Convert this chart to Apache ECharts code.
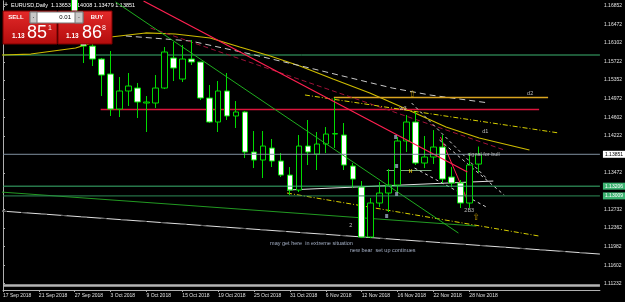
<!DOCTYPE html>
<html>
<head>
<meta charset="utf-8">
<script src="https://cdn.jsdelivr.net/npm/echarts@6/dist/echarts.min.js"></script>
<style>
html,body{margin:0;padding:0;background:#000;}
#chart{width:625px;height:302px;}
</style>
</head>
<body>
<div id="chart"></div>
<script>
// EURUSD daily, bars from 27 Sep 2018 (index 8) to 29 Nov 2018 (index 53)
var symbol = 'EURUSD', period = 'Daily';
var bid = '1.13851', ask = '1.13868';
var tickLabels = ['17 Sep 2018','21 Sep 2018','27 Sep 2018','3 Oct 2018','9 Oct 2018','15 Oct 2018','19 Oct 2018','25 Oct 2018','31 Oct 2018','6 Nov 2018','12 Nov 2018','16 Nov 2018','22 Nov 2018','28 Nov 2018'];
var barsPerTick = 4;
var priceTicks = [1.16852,1.16472,1.16102,1.15722,1.15352,1.14972,1.14602,1.14222,1.13472,1.12732,1.12362,1.11982,1.11602,1.11232];
var firstBar = 8;
var xMax = 66.56;

var opens  = [1.1740,1.1645,1.1604,1.15779,1.15476,1.14767,1.15132,1.15192,1.14889,1.14889,1.15192,1.15800,1.15374,1.15779,1.15719,1.14990,1.14504,1.15132,1.14626,1.14707,1.13897,1.13735,1.13978,1.13715,1.13431,1.13128,1.14018,1.13856,1.14059,1.14261,1.14241,1.13614,1.13189,1.12177,1.12865,1.13067,1.13229,1.14120,1.14504,1.13674,1.13796,1.13998,1.13391,1.13270,1.12865,1.13653];
var closes = [1.1645,1.16042,1.15779,1.15455,1.14767,1.15132,1.15233,1.14909,1.14909,1.15192,1.15921,1.15597,1.15779,1.15719,1.14990,1.14504,1.15132,1.14626,1.14707,1.13897,1.13735,1.14018,1.13715,1.13431,1.13128,1.14018,1.13897,1.14059,1.14261,1.14271,1.13634,1.13350,1.12177,1.12865,1.13067,1.13229,1.14120,1.14504,1.13674,1.13796,1.13998,1.13350,1.13270,1.12865,1.13634,1.13851];
var lows   = [1.1641,1.15698,1.15638,1.15030,1.14626,1.14605,1.14828,1.14585,1.14302,1.14788,1.15172,1.15334,1.15314,1.15658,1.14949,1.14484,1.14302,1.14545,1.14383,1.13776,1.13573,1.13371,1.13593,1.13391,1.13027,1.13087,1.13634,1.13533,1.13877,1.13978,1.13533,1.13168,1.12156,1.12156,1.12784,1.12683,1.13067,1.13897,1.13634,1.13573,1.13654,1.13270,1.13189,1.12764,1.12764,1.13479];
var highs  = [1.1750,1.1655,1.1625,1.15800,1.15941,1.15415,1.15496,1.15294,1.15030,1.15455,1.16022,1.16123,1.16063,1.16164,1.15719,1.15253,1.15334,1.15496,1.14929,1.14727,1.14322,1.14322,1.14160,1.13877,1.13593,1.14241,1.14545,1.14302,1.14403,1.14990,1.14484,1.13674,1.13310,1.12966,1.13290,1.13553,1.14201,1.14646,1.14707,1.14221,1.14342,1.14241,1.13593,1.13330,1.13877,1.14008];

// moving average style curves  [bar index, price]
var maYellow = [[-0.2,1.15860],[3.1,1.15880],[8.1,1.16002],[12,1.16225],[15.9,1.16306],[19.2,1.16285],[23.1,1.16204],[26.4,1.16022],[29.8,1.15840],[33.1,1.15638],[36.8,1.15375],[40.9,1.15091],[44.2,1.14828],[49.4,1.14403],[53.1,1.14180],[58.7,1.13938]];
var maGrey = [[13.7,1.16245],[20.9,1.16144],[27.6,1.15880],[34.2,1.15597],[43.4,1.15192],[47.6,1.15051],[54.2,1.14889]];

// trend lines [bar index, price]
var greenFall  = [[12.56,1.16933],[50.78,1.12258]];
var redFall    = [[15.67,1.16953],[51.78,1.13492]];
var redDash    = [[16.44,1.16407],[55.89,1.13938]];
var greenLow   = [[-0.22,1.13087],[52.78,1.12399]];
var whiteLow   = [[-0.22,1.12703],[66.56,1.11832]];
var whiteUp    = [[31.67,1.13128],[54.67,1.13310]];
var yellowUp   = [[33.67,1.15051],[62,1.14282]];
var yellowLow  = [[31.67,1.13067],[59.78,1.12197]];
var d2Line     = [[36.89,1.1500],[60.78,1.1500]];
var crimsonH   = [[10.89,1.1476],[59.78,1.1476]];
var greenShort = [[42.78,1.13523],[47.78,1.13523]];
var redThin    = [[48.78,1.14201],[51.78,1.12925]];
var fanA = [[45.56,1.14889],[53.89,1.13371]];
var fanB = [[45.89,1.13573],[53.89,1.12784]];
var fanC = [[48.67,1.14140],[55.89,1.13027]];

// full width horizontal levels
var levelTop = 1.15860, levelBid = 1.13851, levelG1 = 1.13206, levelG2 = 1.13009, levelLow = 1.11195;

var notes = [
  {name:'may get here  in extreme situation', value:[29.78,1.12055], color:'#c8d6f0'},
  {name:'new bear  set up continues', value:[38.67,1.11913], color:'#c8d6f0'},
  {name:'2', value:[38.6,1.12419], color:'#e8e8e8'},
  {name:'signal for bull', value:[51.78,1.13857], color:'#d0d0d0'},
  {name:'d1', value:[53.44,1.14322], color:'#e0e0e0'},
  {name:'d2', value:[58.44,1.15091], color:'#e0e0e0'},
  {name:'w3', value:[44.22,1.14788], color:'#e0e0e0'},
  {name:'2B3', value:[51.44,1.12723], color:'#e0e0e0'}
];
var arrows = [[45.67,1.15051],[52.78,1.12561]];
var marks = [[43.78,1.14201],[43.89,1.13614],[43.89,1.13047],[42.78,1.12602]];
var hMark = [[45.44,1.13492]];

var candles = opens.map(function (o, i) {
  return [firstBar + i, o, closes[i], lows[i], highs[i]];
});

var FONT = 'Liberation Sans';

function seg(data, color, width, type, z) {
  return {type:'line', data:data, symbol:'none', silent:true, z:z || 3, animation:false,
    lineStyle:{color:color, width:width, type:type || 'solid'}};
}
function level(v, color, width, lab) {
  var s = seg([[0, v], [xMax, v]], color, width, 'solid', lab ? 6 : 1);
  if (lab) {
    s.endLabel = {show:true, distance:3, formatter:v.toFixed(5), fontSize:5,
      fontFamily:FONT, color:lab.color, backgroundColor:lab.bg, padding:[1,2,1,2]};
  }
  return s;
}

var chart = echarts.init(document.getElementById('chart'));
var last = candles[candles.length - 1];
var title = symbol + ',' + period + '  ' + [last[1], last[4], last[3], last[2]].map(function (v) { return v.toFixed(5); }).join(' ');

var redGrad = new echarts.graphic.LinearGradient(0, 0, 0, 1, [{offset:0, color:'#e42a2a'}, {offset:1, color:'#b30c0c'}]);
var xTicks = tickLabels.map(function (t, i) { return i * barsPerTick; });

var option = {
  backgroundColor:'#000',
  animation:false,
  grid:{left:2, right:24, top:1, bottom:12},
  xAxis:{
    type:'value', min:0, max:xMax,
    axisLine:{show:true, onZero:false, lineStyle:{color:'#b0b0b0'}},
    axisTick:{show:true, length:2, customValues:xTicks, lineStyle:{color:'#b0b0b0'}},
    axisLabel:{customValues:xTicks,
      formatter:function (v) { return tickLabels[Math.round(v / barsPerTick)] || ''; },
      align:'left', margin:3, fontSize:5, color:'#e0e0e0', fontFamily:FONT},
    splitLine:{show:false}
  },
  yAxis:[{
    type:'value', position:'right', min:1.11105, max:1.16953,
    axisLine:{show:true, lineStyle:{color:'#b0b0b0'}},
    axisTick:{show:true, length:2, customValues:priceTicks, lineStyle:{color:'#b0b0b0'}},
    axisLabel:{customValues:priceTicks, formatter:function (v) { return v.toFixed(5); },
      align:'left', margin:4, fontSize:5, color:'#e0e0e0', fontFamily:FONT},
    splitLine:{show:false}
  }, {
    type:'value', position:'left', min:1.11105, max:1.16953,
    axisLine:{show:true, lineStyle:{color:'#b0b0b0'}},
    axisTick:{show:false}, axisLabel:{show:false}, splitLine:{show:false}
  }],
  series:[
    level(levelTop, '#3cb371', 1),
    level(levelLow, '#b4b4b4', 2.5),
    seg(maYellow, '#cdbb00', 1.2, 'solid', 2),
    seg(maGrey, '#c8c8c8', 1, [6,4], 2),
    {
      type:'candlestick', data:candles, encode:{x:0, y:[1,2,3,4]}, barWidth:6, z:4,
      itemStyle:{color:'#000', color0:'#fff', borderColor:'#00dc00', borderColor0:'#00dc00', borderWidth:1}
    },
    seg(crimsonH, '#dc143c', 1.5),
    seg(d2Line, '#daa520', 1.5),
    seg(greenFall, '#1fae1f', 1, 'solid', 5),
    seg(redFall, '#ff2050', 1.2, 'solid', 5),
    seg(redDash, '#a01038', 1, [5,3]),
    seg(greenLow, '#229a22', 1),
    seg(whiteLow, '#e0e0e0', 1),
    seg(whiteLow, '#555', 1, [6,14]),
    seg(whiteUp, '#e0e0e0', 1),
    seg(yellowUp, '#d8d000', 1, [5,2,1,2]),
    seg(yellowLow, '#d8d000', 1, [5,2,1,2]),
    seg(greenShort, '#80a880', 1),
    seg(redThin, '#ff2050', 1),
    seg(fanA, '#d0d0d0', 1, [3,3]),
    seg(fanB, '#d0d0d0', 1, [3,3]),
    seg(fanC, '#d0d0d0', 1, [3,3]),
    level(levelG1, '#3cb371', 1, {bg:'#3cb371', color:'#fff'}),
    level(levelG2, '#2e8b57', 1, {bg:'#3cb371', color:'#fff'}),
    level(levelBid, '#8090a0', 1, {bg:'#fff', color:'#000'}),
    {
      type:'scatter', data:notes.map(function (n) { return {name:n.name, value:n.value, label:{color:n.color}}; }),
      symbolSize:0, silent:true, z:6,
      label:{show:true, position:'right', distance:0, formatter:'{b}', fontSize:5.5, fontFamily:FONT}
    },
    {
      type:'scatter', data:arrows, symbolSize:0, silent:true, z:6,
      label:{show:true, position:'inside', formatter:'\u21e7', fontSize:9, color:'#e0b000', fontFamily:'DejaVu Sans'}
    },
    {
      type:'scatter', data:hMark, symbolSize:0, silent:true, z:6,
      label:{show:true, position:'inside', formatter:'H', fontSize:5, fontWeight:'bold', color:'#ffd700', fontFamily:FONT}
    },
    {
      type:'scatter', data:marks, symbol:'rect', symbolSize:[3,4], silent:true, z:6,
      itemStyle:{color:'#9aa8c0'}
    }
  ],
  graphic:{elements:[
    {type:'text', x:4, y:5, z:1, style:{text:'+', fill:'#fff', font:'7px ' + FONT, textVerticalAlign:'middle'}},
    {type:'text', x:11, y:5, z:1, style:{text:title, fill:'#fff', font:'5.5px ' + FONT, textVerticalAlign:'middle'}},
    {type:'rect', z:100, shape:{x:3, y:11, width:54, height:33}, style:{fill:redGrad, stroke:'#7a0000', lineWidth:1}},
    {type:'rect', z:100, shape:{x:58, y:11, width:54, height:33}, style:{fill:redGrad, stroke:'#7a0000', lineWidth:1}},
    {type:'rect', z:101, shape:{x:30, y:12, width:53, height:11}, style:{fill:'#fff', stroke:'#777', lineWidth:1}},
    {type:'rect', z:102, shape:{x:30, y:12, width:7, height:11}, style:{fill:'#c8c8c8', stroke:'#777', lineWidth:1}},
    {type:'rect', z:102, shape:{x:75, y:12, width:8, height:11}, style:{fill:'#c8c8c8', stroke:'#777', lineWidth:1}},
    {type:'text', z:103, x:33.5, y:17.5, style:{text:'\u2022', fill:'#555', font:'4px ' + FONT, textAlign:'center', textVerticalAlign:'middle'}},
    {type:'text', z:103, x:79, y:17.5, style:{text:'\u2022', fill:'#555', font:'4px ' + FONT, textAlign:'center', textVerticalAlign:'middle'}},
    {type:'text', z:103, x:71, y:17.5, style:{text:'0.01', fill:'#000', font:'6px ' + FONT, textAlign:'right', textVerticalAlign:'middle'}},
    {type:'text', z:103, x:16, y:17.5, style:{text:'SELL', fill:'#fff', font:'bold 6px ' + FONT, textAlign:'center', textVerticalAlign:'middle'}},
    {type:'text', z:103, x:97, y:17.5, style:{text:'BUY', fill:'#fff', font:'bold 6px ' + FONT, textAlign:'center', textVerticalAlign:'middle'}},
    {type:'text', z:103, x:12, y:36, style:{text:bid.slice(0, 4), fill:'#fff', font:'bold 6.5px ' + FONT, textVerticalAlign:'middle'}},
    {type:'text', z:103, x:27, y:33, style:{text:bid.slice(4, 6), fill:'#fff', font:'18px ' + FONT, textVerticalAlign:'middle'}},
    {type:'text', z:103, x:48, y:28, style:{text:bid.slice(6), fill:'#fff', font:'7px ' + FONT, textVerticalAlign:'middle'}},
    {type:'text', z:103, x:66, y:36, style:{text:ask.slice(0, 4), fill:'#fff', font:'bold 6.5px ' + FONT, textVerticalAlign:'middle'}},
    {type:'text', z:103, x:82, y:33, style:{text:ask.slice(4, 6), fill:'#fff', font:'18px ' + FONT, textVerticalAlign:'middle'}},
    {type:'text', z:103, x:102, y:28, style:{text:ask.slice(6), fill:'#fff', font:'7px ' + FONT, textVerticalAlign:'middle'}}
  ]}
};

chart.setOption(option);
</script>
</body>
</html>
